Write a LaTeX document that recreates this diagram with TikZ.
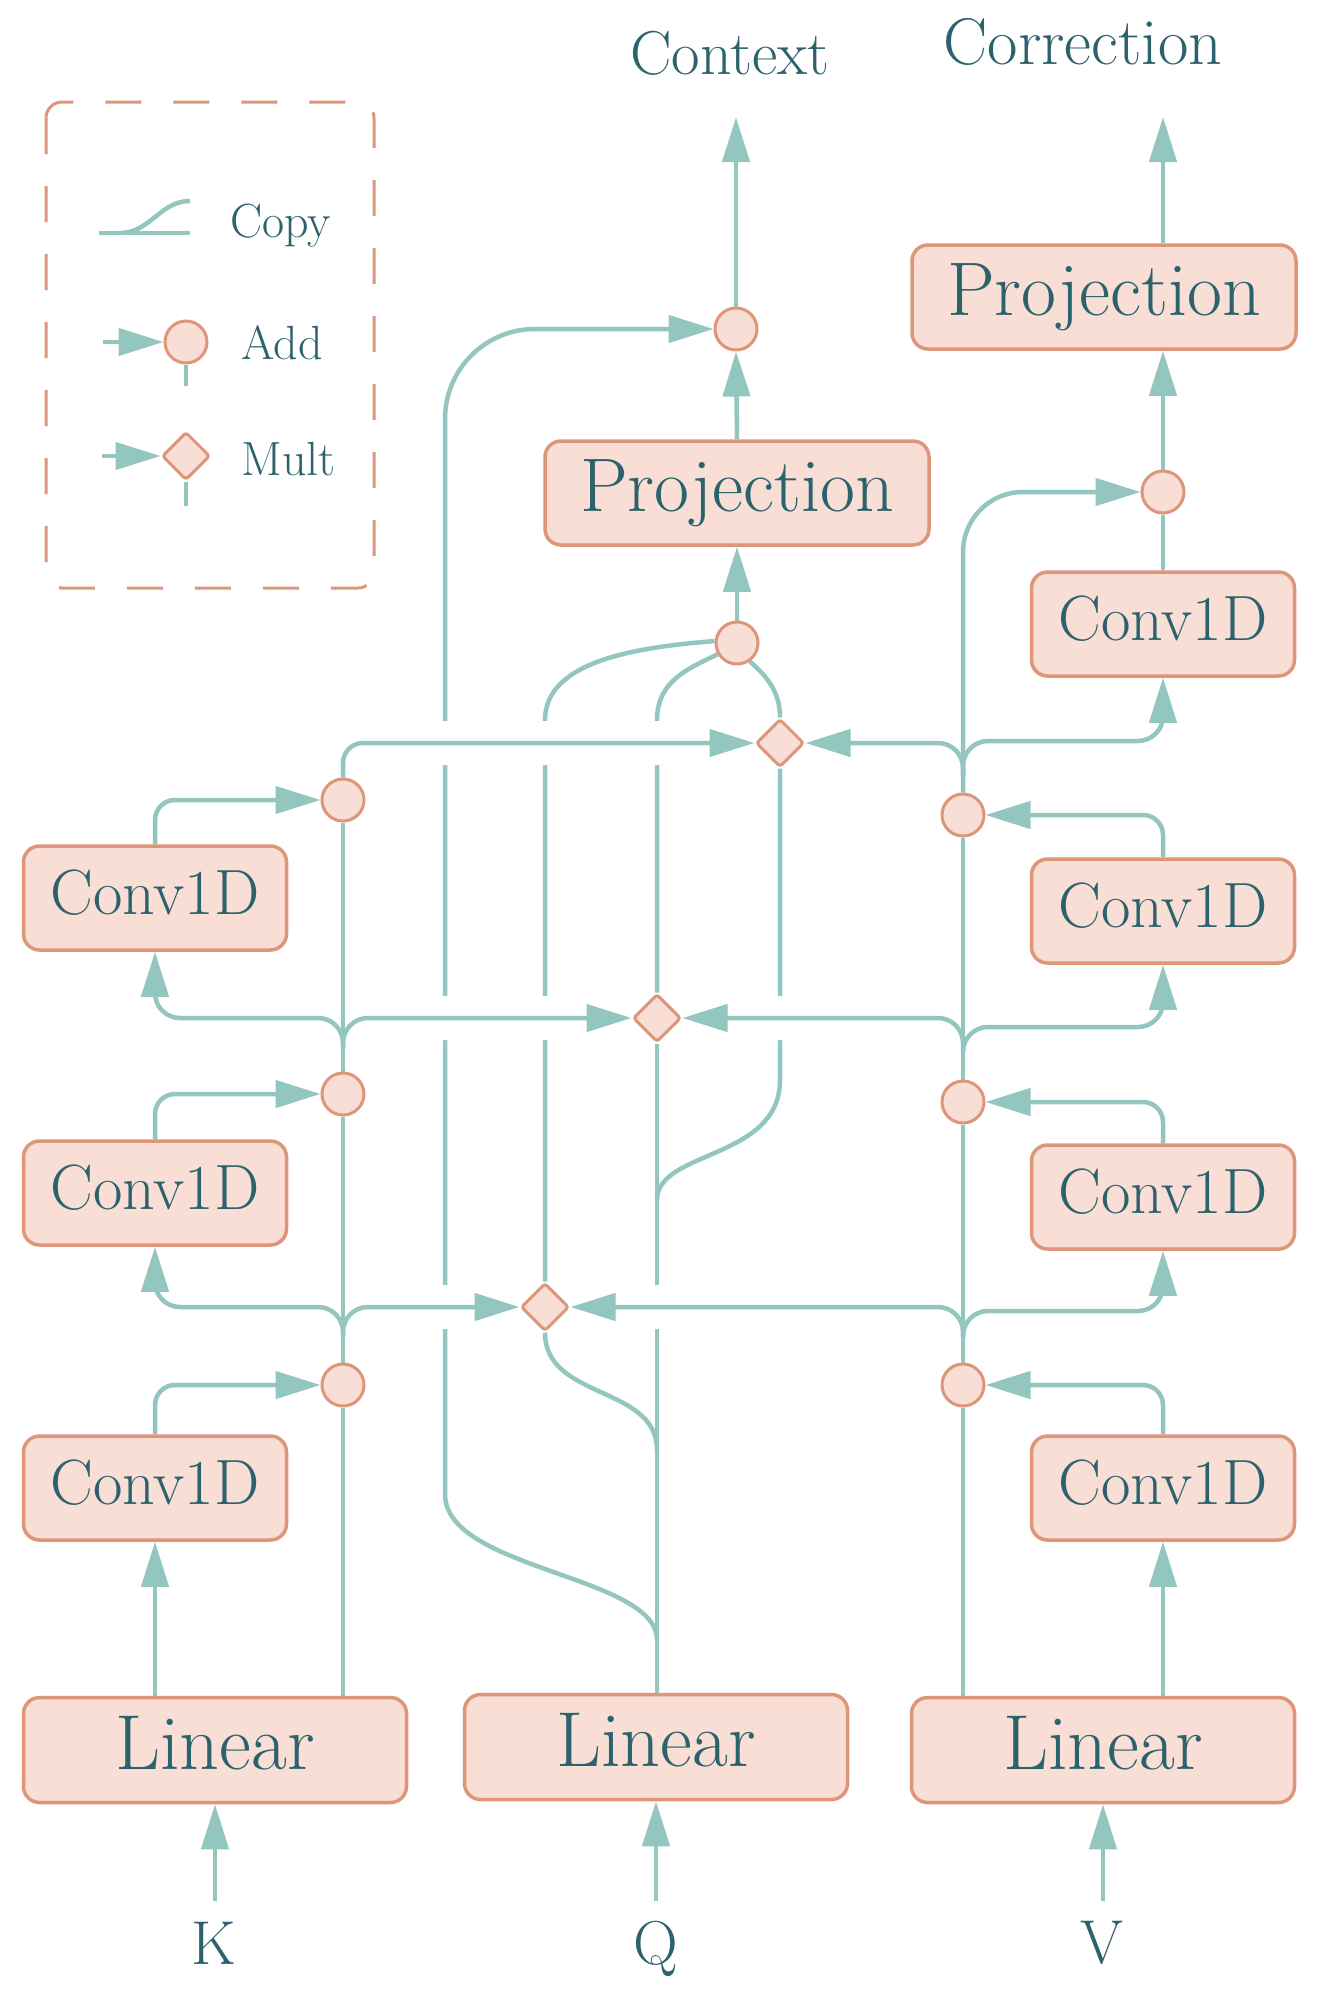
\documentclass[tikz,border=0pt]{standalone}
\usetikzlibrary{arrows.meta,shapes.geometric,backgrounds}
\definecolor{flowc}{RGB}{148,198,192}
\definecolor{boxfill}{RGB}{248,222,213}
\definecolor{boxline}{RGB}{221,150,122}
\definecolor{txtc}{RGB}{44,98,108}
\tikzset{
  block/.style={draw=boxline, fill=boxfill, line width=3.5pt, rounded corners=16pt, text=txtc, inner sep=0pt},
  conv/.style={block, minimum width=263pt, minimum height=104pt, text height=44pt, text depth=12pt, font=\fontsize{64}{64}\selectfont},
  proj/.style={block, minimum width=384pt, minimum height=104pt, text height=52pt, text depth=15pt, font=\fontsize{76}{76}\selectfont},
  lin/.style={block, minimum width=383pt, minimum height=105pt, text height=54pt, text depth=15pt, font=\fontsize{78}{78}\selectfont},
  addop/.style={circle, draw=boxline, fill=boxfill, line width=3pt, minimum size=42pt, inner sep=0pt},
  mulop/.style={diamond, draw=boxline, fill=boxfill, line width=3pt, minimum size=48pt, inner sep=0pt, rounded corners=3pt},
  flow/.style={draw=flowc, line width=4.5pt},
  arr/.style={-{Triangle[length=45pt,width=27pt]}},
  hop/.style={preaction={draw=white, line width=44pt, -}},
  lbl/.style={text=txtc, anchor=base, font=\fontsize{62}{62}\selectfont},
  key/.style={text=txtc, anchor=base west, font=\fontsize{48}{48}\selectfont},
}
\begin{document}
\begin{tikzpicture}[x=1pt, y=-1pt]
  \useasboundingbox (0,0) rectangle (1319,2006);
  % legend
  \draw[boxline, line width=3pt, dash pattern=on 36pt off 32pt, rounded corners=16pt] (46,102) rectangle (374,588);
  \node[key] (kcopy) at (227,237) {Copy};
  \node[addop] (ladd) at (186,342) {};
  \node[key] (kadd) at (238,359) {Add};
  \node[mulop] (lmul) at (186,456) {};
  \node[key] (kmul) at (238,475) {Mult};
  % K column
  \node[lin] (klin) at (215,1750) {Linear};
  \node[conv] (kc1) at (155,1488) {Conv1D};
  \node[conv] (kc2) at (155,1193) {Conv1D};
  \node[conv] (kc3) at (155,898) {Conv1D};
  \node[addop] (ka1) at (343,1385) {};
  \node[addop] (ka2) at (343,1094) {};
  \node[addop] (ka3) at (343,800) {};
  \coordinate (kj1) at (343,1335);
  \coordinate (kj2) at (343,1047);
  % Q column
  \node[lin] (qlin) at (656,1747) {Linear};
  \node[mulop] (m1) at (545,1307) {};
  \node[mulop] (m2) at (657,1018) {};
  \node[mulop] (m3) at (780,743) {};
  \node[addop] (mixadd) at (737,643) {};
  \node[proj] (mproj) at (737,493) {Projection};
  \node[addop] (ctxadd) at (736,329) {};
  \coordinate (qs1) at (657,1640);
  \coordinate (qs2) at (657,1450);
  \coordinate (qs3) at (657,1200);
  % V column
  \node[lin] (vlin) at (1103,1750) {Linear};
  \node[conv] (vc1) at (1163,1488) {Conv1D};
  \node[conv] (vc2) at (1163,1197) {Conv1D};
  \node[conv] (vc3) at (1163,911) {Conv1D};
  \node[conv] (vc4) at (1163,624) {Conv1D};
  \node[addop] (va1) at (963,1385) {};
  \node[addop] (va2) at (963,1102) {};
  \node[addop] (va3) at (963,815) {};
  \node[addop] (coradd) at (1163,492) {};
  \node[proj] (cproj) at (1104,297) {Projection};
  \coordinate (vj1) at (963,1337);
  \coordinate (vj2) at (963,1052);
  \coordinate (vj3) at (963,775);
  % inputs and outputs
  \node[lbl] (kname) at (214,1964) {K};
  \node[lbl] (qname) at (656,1964) {Q};
  \node[lbl] (vname) at (1102,1963) {V};
  \node[lbl] (ctxname) at (730,74) {Context};
  \node[lbl, font=\fontsize{66}{66}\selectfont] (corname) at (1083,64) {Correction};
  \coordinate (kfeed) at (215,1901);
  \coordinate (qfeed) at (656,1901);
  \coordinate (vfeed) at (1103,1901);
  \coordinate (ctxout) at (736,117);
  \coordinate (corout) at (1163,117);

  \begin{pgfonlayer}{background}
    \fill[white] (0,0) rectangle (1319,2006);
    % legend glyphs
    \draw[flow] (99,233) -- (190,233);
    \draw[flow] (120,233) .. controls (150,233) and (160,201) .. (190,201);
    \draw[flow, arr] (103,342) -- (ladd.west);
    \draw[flow] (ladd.south) -- (186,386);
    \draw[flow, arr] (102,456) -- (lmul.west);
    \draw[flow] (lmul.south) -- (186,506);
    % lines that the rows hop over
    \draw[flow, arr] (qs1) .. controls (657,1575) and (445,1570) .. (445,1494) [rounded corners=90pt] |- (ctxadd.west);
    \draw[flow] (m2 |- qlin.north) -- (m2.south);
    \draw[flow] (m2.north) -- (657,720) .. controls (657,680) and (690,668) .. (mixadd.210);
    \draw[flow] (m1.north) -- (545,720) .. controls (545,660) and (640,647) .. (mixadd.175);
    \draw[flow] (m3.north) .. controls (780,690) and (765,675) .. (mixadd.305);
    \draw[flow] (m3.south) -- (780,1080) .. controls (780,1160) and (657,1150) .. (qs3);
    \draw[flow] (m1.south) .. controls (545,1400) and (657,1385) .. (qs2);
    % rows into the products
    \draw[flow, arr, hop, rounded corners=20pt] (ka3.north) |- (m3.west);
    \draw[flow, arr, hop, rounded corners=25pt] (kj2) -- ++(0,-29) -- (m2.west);
    \draw[flow, arr, hop, rounded corners=25pt] (kj1) -- ++(0,-28) -- (m1.west);
    \draw[flow, arr, hop, rounded corners=25pt] (vj2) -- ++(0,-34) -- (m2.east);
    \draw[flow, arr, hop, rounded corners=25pt] (vj1) -- ++(0,-30) -- (m1.east);
    \draw[flow, arr, rounded corners=25pt] (vj3) -- ++(0,-32) -- (m3.east);
    % K side
    \draw[flow] (ka1 |- klin.north) -- (ka1.south);
    \draw[flow] (ka1.north) -- (ka2.south);
    \draw[flow] (ka2.north) -- (ka3.south);
    \draw[flow, arr] (kc1 |- klin.north) -- (kc1.south);
    \draw[flow, arr, rounded corners=25pt] (kj1) -- ++(0,-28) -| (kc2.south);
    \draw[flow, arr, rounded corners=25pt] (kj2) -- ++(0,-29) -| (kc3.south);
    \draw[flow, arr, rounded corners=20pt] (kc1.north) |- (ka1.west);
    \draw[flow, arr, rounded corners=20pt] (kc2.north) |- (ka2.west);
    \draw[flow, arr, rounded corners=20pt] (kc3.north) |- (ka3.west);
    % V side
    \draw[flow] (va1 |- vlin.north) -- (va1.south);
    \draw[flow] (va1.north) -- (va2.south);
    \draw[flow] (va2.north) -- (va3.south);
    \draw[flow, arr, rounded corners=60pt] (va3.north) |- (coradd.west);
    \draw[flow, arr] (vc1 |- vlin.north) -- (vc1.south);
    \draw[flow, arr, rounded corners=25pt] (vj1) -- ++(0,-26) -| (vc2.south);
    \draw[flow, arr, rounded corners=25pt] (vj2) -- ++(0,-25) -| (vc3.south);
    \draw[flow, arr, rounded corners=25pt] (vj3) -- ++(0,-34) -| (vc4.south);
    \draw[flow, arr, rounded corners=20pt] (vc1.north) |- (va1.east);
    \draw[flow, arr, rounded corners=20pt] (vc2.north) |- (va2.east);
    \draw[flow, arr, rounded corners=20pt] (vc3.north) |- (va3.east);
    \draw[flow] (vc4.north) -- (coradd.south);
    % heads
    \draw[flow, arr] (mixadd.north) -- (mproj.south);
    \draw[flow, arr] (mproj.north) -- (ctxadd.south);
    \draw[flow, arr] (ctxadd.north) -- (ctxout);
    \draw[flow, arr] (coradd.north) -- (coradd |- cproj.south);
    \draw[flow, arr] (cproj.north -| corout) -- (corout);
    % feeds
    \draw[flow, arr] (kfeed) -- (klin.south);
    \draw[flow, arr] (qfeed) -- (qlin.south);
    \draw[flow, arr] (vfeed) -- (vlin.south);
  \end{pgfonlayer}
\end{tikzpicture}
\end{document}
